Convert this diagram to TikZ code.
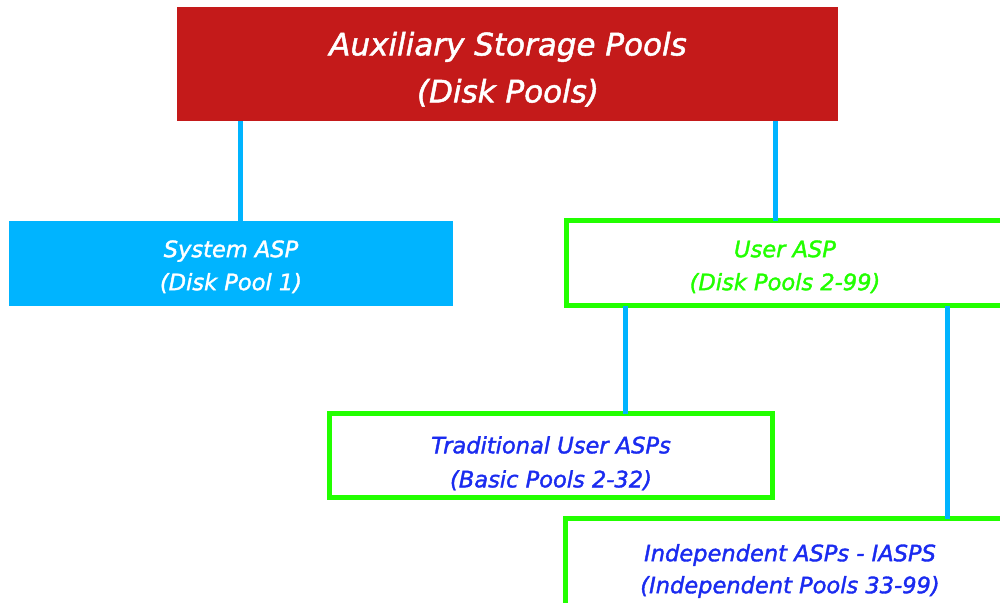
\documentclass[tikz,border=0pt]{standalone}
\usepackage{fontspec}
\setmainfont{DejaVu Sans}[ItalicFeatures={FakeBold=1.6}]
\definecolor{aspred}{HTML}{C41A1A}
\definecolor{aspblue}{HTML}{00B4FF}
\definecolor{aspgreen}{HTML}{22FF00}
\definecolor{asptext}{HTML}{1A2BF0}
\tikzset{
  px/.style={x=0.75pt,y=-0.75pt},
  box/.style={rectangle, outer sep=0pt, inner sep=0pt},
  greenbox/.style={box, draw=aspgreen, line width=3.75pt, fill=white},
  txt/.style={inner sep=0pt, align=center,
    font=\fontsize{16.9}{24.75}\selectfont\itshape},
  conn/.style={draw=aspblue, line width=3.75pt}
}
\begin{document}
\begin{tikzpicture}[px]
\useasboundingbox (0,0) rectangle (1000,603);
\node[box, fill=aspred, minimum width=495.75pt, minimum height=85.5pt] (red) at (507.5,64) {};
\node[box, fill=aspblue, minimum width=333pt, minimum height=63.75pt] (sys) at (231,263.5) {};
\node[greenbox, minimum width=327.75pt, minimum height=63.75pt] (user) at (785,263) {};
\node[greenbox, minimum width=332.25pt, minimum height=63pt] (trad) at (551,455.5) {};
\node[greenbox, minimum width=336.75pt, minimum height=66.75pt] (indep) at (790,563) {};
% texts
\node[txt, text=white, font=\fontsize{23.25}{35.25}\selectfont\itshape] (redt) at (508,69.2)
  {Auxiliary Storage Pools\\(Disk Pools)};
\node[txt, text=white] (syst) at (231,266.75) {System ASP\\(Disk Pool 1)};
\node[txt, text=aspgreen] (usert) at (785,266.75) {User ASP\\(Disk Pools 2-99)};
\node[txt, text=asptext, font=\fontsize{16.9}{25.5}\selectfont\itshape] (tradt) at (551,463.25)
  {Traditional User ASPs\\(Basic Pools 2-32)};
\node[txt, text=asptext, font=\fontsize{16.9}{24}\selectfont\itshape] (indept) at (790,571)
  {Independent ASPs - IASPS\\(Independent Pools 33-99)};
% connectors
\path ([xshift=6.75pt]sys.north) coordinate (c1);
\path ([xshift=-7.5pt]user.north) coordinate (c2);
\path ([xshift=-120pt]user.south) coordinate (c3);
\path ([xshift=121.5pt]user.south) coordinate (c4);
\draw[conn] (c1 |- red.south) -- (c1);
\draw[conn] (c2 |- red.south) -- (c2);
\draw[conn] (c3) -- (c3 |- trad.north);
\draw[conn] (c4) -- (c4 |- indep.north);
\end{tikzpicture}
\end{document}
